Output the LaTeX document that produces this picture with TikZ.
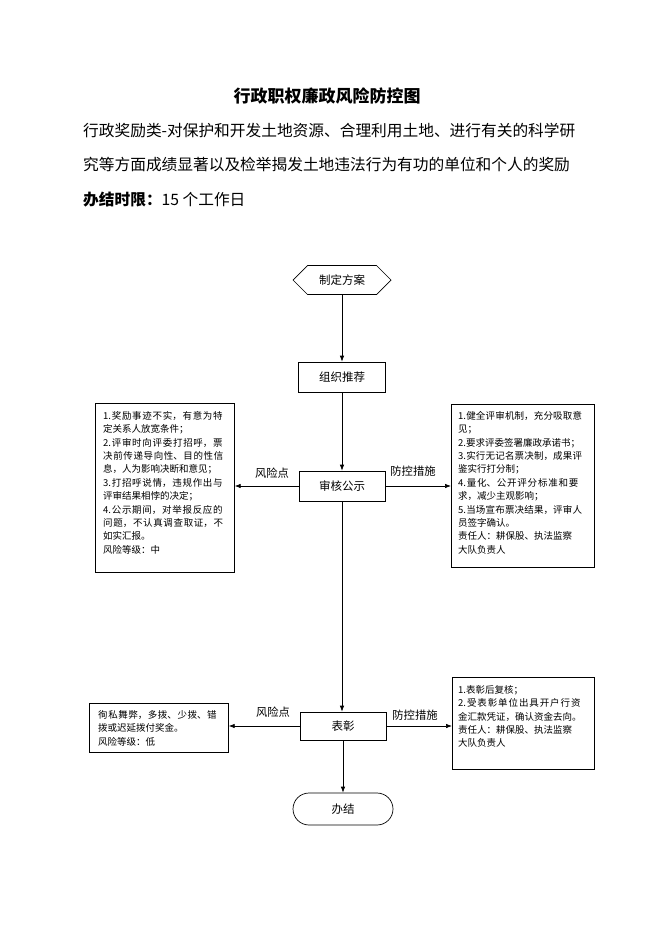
\documentclass[tikz,border=0pt]{standalone}
\usepackage{fontspec}
\setmainfont{Noto Sans CJK SC}
\usetikzlibrary{shapes.symbols,shapes.misc,arrows.meta}
\XeTeXlinebreaklocale "zh"
\XeTeXlinebreakskip=0pt plus 3pt
\setlength\parindent{0pt}
\begin{document}
\begin{tikzpicture}[x=1pt,y=-1pt,
  flow/.style={draw, line width=0.7pt, font=\fontsize{11.5}{13}\selectfont, inner sep=0pt},
  conn/.style={line width=0.7pt, -{Latex[length=6pt,width=4.5pt]}},
  boxframe/.style={draw, line width=0.7pt, inner sep=0pt, anchor=north west},
  boxtext/.style={anchor=north west, inner sep=0pt, font=\fontsize{9.5}{13.4}\selectfont},
  lbl/.style={font=\fontsize{11.3}{13}\selectfont, inner sep=0pt},
  head/.style={anchor=west, inner sep=0pt, font=\fontsize{15.7}{18}\selectfont}]
\fill[white] (0,0) rectangle (662,936);
\useasboundingbox (0,0) rectangle (662,936);

% header
\node[font=\bfseries\fontsize{17}{20}\selectfont, inner sep=0pt] (title) at (327,96) {行政职权廉政风险防控图};
\node[head] (l1) at (83,131) {行政奖励类-对保护和开发土地资源、合理利用土地、进行有关的科学研};
\node[head] (l2) at (83,165) {究等方面成绩显著以及检举揭发土地违法行为有功的单位和个人的奖励};
\node[head] (l3) at (83,200) {{\bfseries 办结时限：}15 个工作日};

% flow nodes
\node[flow, signal, signal to=west and east, signal pointer angle=90, minimum width=98, minimum height=29] (plan) at (342,280) {制定方案};
\node[flow, minimum width=87, minimum height=30] (rec) at (342,377) {组织推荐};
\node[flow, minimum width=86, minimum height=30] (audit) at (342,486) {审核公示};
\node[flow, minimum width=86, minimum height=28] (praise) at (343,726) {表彰};
\node[flow, rounded rectangle, minimum width=100, minimum height=32] (done) at (343,809) {办结};

% side boxes
\node[boxframe, minimum width=139, minimum height=169] (riskA) at (95,403) {};
\node[boxtext, text width=124] (riskAtxt) at (103,411) {%
1.奖励事迹不实，有意为特\linebreak 定关系人放宽条件；\par
2.评审时向评委打招呼，票\linebreak 决前传递导向性、目的性信\linebreak 息，人为影响决断和意见；\par
3.打招呼说情，违规作出与\linebreak 评审结果相悖的决定；\par
4.公示期间，对举报反应的\linebreak 问题，不认真调查取证，不\linebreak 如实汇报。\par
风险等级：中};

\node[boxframe, minimum width=143, minimum height=163] (ctrlA) at (451,404) {};
\node[boxtext, text width=125] (ctrlAtxt) at (458,411) {%
1.健全评审机制，充分吸取意\linebreak 见；\par
2.要求评委签署廉政承诺书；\par
3.实行无记名票决制，成果评\linebreak 鉴实行打分制；\par
4.量化、公开评分标准和要\linebreak 求，减少主观影响；\par
5.当场宣布票决结果，评审人\linebreak 员签字确认。\par
责任人：耕保股、执法监察\\大队负责人};

\node[boxframe, minimum width=139, minimum height=49] (riskB) at (89,703) {};
\node[boxtext, text width=122] (riskBtxt) at (98,710) {%
徇私舞弊，多拨、少拨、错\linebreak 拨或迟延拨付奖金。\par
风险等级：低};

\node[boxframe, minimum width=142, minimum height=92] (ctrlB) at (452,677) {};
\node[boxtext, text width=128] (ctrlBtxt) at (458,685) {%
1.表彰后复核；\par
2.受表彰单位出具开户行资\linebreak 金汇款凭证，确认资金去向。\par
责任人：耕保股、执法监察\\大队负责人};

% labels
\node[lbl] (rlA) at (272,473) {风险点};
\node[lbl] (clA) at (413,471) {防控措施};
\node[lbl] (rlB) at (273,712) {风险点};
\node[lbl] (clB) at (415,715) {防控措施};

% connectors
\draw[conn] (plan.south) -- (rec.north);
\draw[conn] (rec.south) -- (audit.north);
\draw[conn] (audit.west) -- (audit.west -| riskA.east);
\draw[conn] (audit.east) -- (audit.east -| ctrlA.west);
\draw[conn] (audit.south) -- (audit.south |- praise.north);
\draw[conn] (praise.west) -- (praise.west -| riskB.east);
\draw[conn] (praise.east) -- (praise.east -| ctrlB.west);
\draw[conn] (praise.south) -- (praise.south |- done.north);
\end{tikzpicture}
\end{document}
